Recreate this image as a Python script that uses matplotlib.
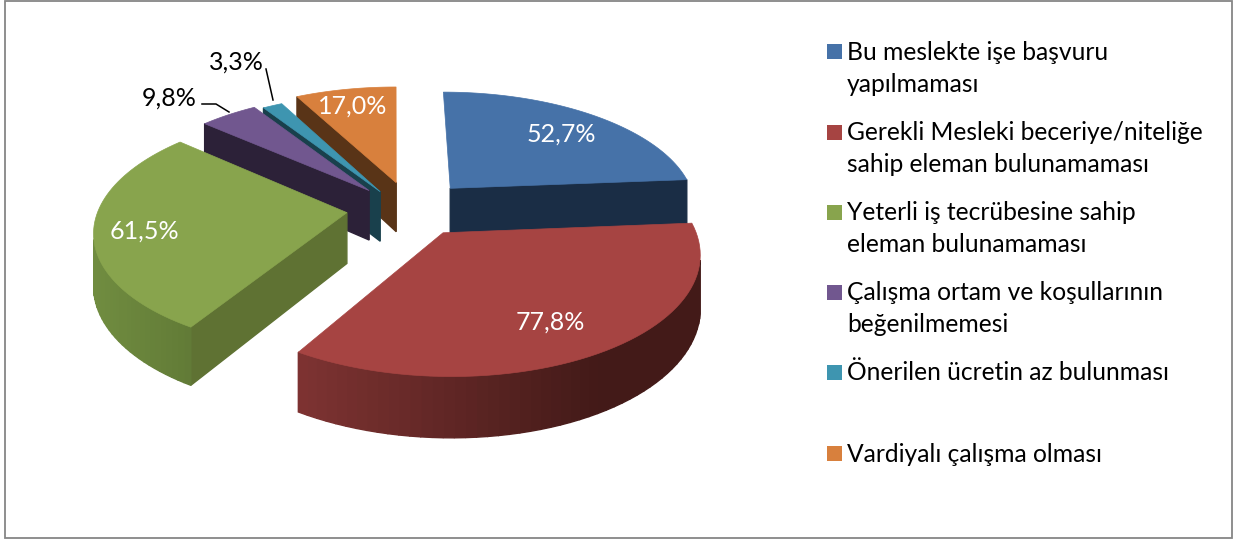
import numpy as np
import matplotlib
matplotlib.use("Agg")
import matplotlib.pyplot as plt
from matplotlib.patches import Rectangle

plt.rcParams['font.family'] = ['Lato', 'DejaVu Sans']

# values
labels = ["Bu meslekte işe başvuru\nyapılmaması",
          "Gerekli Mesleki beceriye/niteliğe\nsahip eleman bulunamaması",
          "Yeterli iş tecrübesine sahip\neleman bulunamaması",
          "Çalışma ortam ve koşullarının\nbeğenilmemesi",
          "Önerilen ücretin az bulunması",
          "Vardiyalı çalışma olması"]
values = [52.7, 77.8, 61.5, 9.8, 3.3, 17.0]
value_labels = ["52,7%", "77,8%", "61,5%", "9,8%", "3,3%", "17,0%"]

# styles
top_colors = ["#4672a8", "#a64442", "#88a44d", "#71578f", "#3e95b0", "#d8803d"]
wall_colors = ["#1a2d45", "#431a18", "#5f7233", "#2c2138", "#19404c", "#593417"]
explode = [(0.225, 0.23), (0.185, -0.145), (-0.19, 0.02), (-0.105, 0.21), (-0.06, 0.20), (0.005, 0.28)]
radius = [0.98, 0.975, 0.985, 0.985, 0.99, 0.99]
draw_order = [0, 5, 4, 3, 2, 1]

# pie plane -> picture pixels, simple perspective
X0, Y0 = 395, 215
RX, RY = 254, 120
PERSP = 0.15
DEPTH = 51


def project(u, v, down=0):
    s = 1 / (1 + PERSP * v)
    return X0 + RX * u * s, Y0 - RY * v * s + DEPTH * s * down


def quad(p, q):
    return [project(*p), project(*q), project(*q, 1), project(*p, 1)]


def mix(c1, c2, t):
    c1 = np.array(matplotlib.colors.to_rgb(c1))
    c2 = np.array(matplotlib.colors.to_rgb(c2))
    return tuple(c1 + (c2 - c1) * np.clip(t, 0, 1))


def arc_color(i, x):
    if i == 1:  # red side gets dark towards the right
        return mix("#7e3332", "#431a18", (x - 296) / 300)
    if i == 2:
        return mix("#708c40", "#617a36", (x - 95) / 100)
    return wall_colors[i]


fig = plt.figure(figsize=(12.37, 5.4), dpi=100)
ax = fig.add_axes([0, 0, 1, 1])
ax.set_xlim(0, 1237)
ax.set_ylim(540, 0)
ax.axis("off")

ax.add_patch(Rectangle((4.5, 0.5), 1227, 537, fc="white", ec="#868686", lw=1.3))

edges = np.cumsum([0] + values) / sum(values) * 360
for i in draw_order:
    u0, v0 = explode[i]
    r = radius[i]
    z = 2 + draw_order.index(i)
    ang = np.radians(np.linspace(edges[i], edges[i + 1], 60))
    pts = [(u0 + r * np.sin(a), v0 + r * np.cos(a)) for a in ang]
    ring = [(u0, v0)] + pts + [(u0, v0)]
    for k in range(len(ring) - 1):
        a, b = ring[k], ring[k + 1]
        xa, ya = project(*a)
        xb, yb = project(*b)
        if xb - xa >= -0.1 * abs(yb - ya):
            continue  # wall faces away
        if k == 0 or k == len(ring) - 2:
            col = wall_colors[i]
        else:
            col = arc_color(i, (xa + xb) / 2)
        ax.fill(*zip(*quad(a, b)), fc=col, ec=col, lw=1.0, zorder=z)
    ax.fill(*zip(*[project(*p) for p in ring]), fc=top_colors[i], ec=top_colors[i], lw=0.5, zorder=z)

# value labels
white_pos = {0: (561, 134), 1: (550, 322), 2: (144, 231), 5: (353, 106)}
for i, (x, y) in white_pos.items():
    ax.text(x, y, value_labels[i], color="white", fontsize=18, ha="center", va="center", zorder=20)
ax.text(169, 98, value_labels[3], color="black", fontsize=18, ha="center", va="center", zorder=20)
ax.text(236, 62, value_labels[4], color="black", fontsize=18, ha="center", va="center", zorder=20)
ax.plot([202, 216, 229], [104, 104, 112], color="black", lw=1.1, zorder=20)
ax.plot([266, 273], [69, 100], color="black", lw=1.1, zorder=20)

# legend
legend_y = [51.5, 132, 212, 292, 372, 453]
for i, y in enumerate(legend_y):
    ax.add_patch(Rectangle((827, y - 7.5), 15, 15, fc=top_colors[i], ec="none"))
    lines = labels[i].split("\n")
    for j, line in enumerate(lines):
        ax.text(847, y + 1 + j * 32, line, color="black", fontsize=17.7, ha="left", va="center")

fig.savefig("out.png", dpi=100)
